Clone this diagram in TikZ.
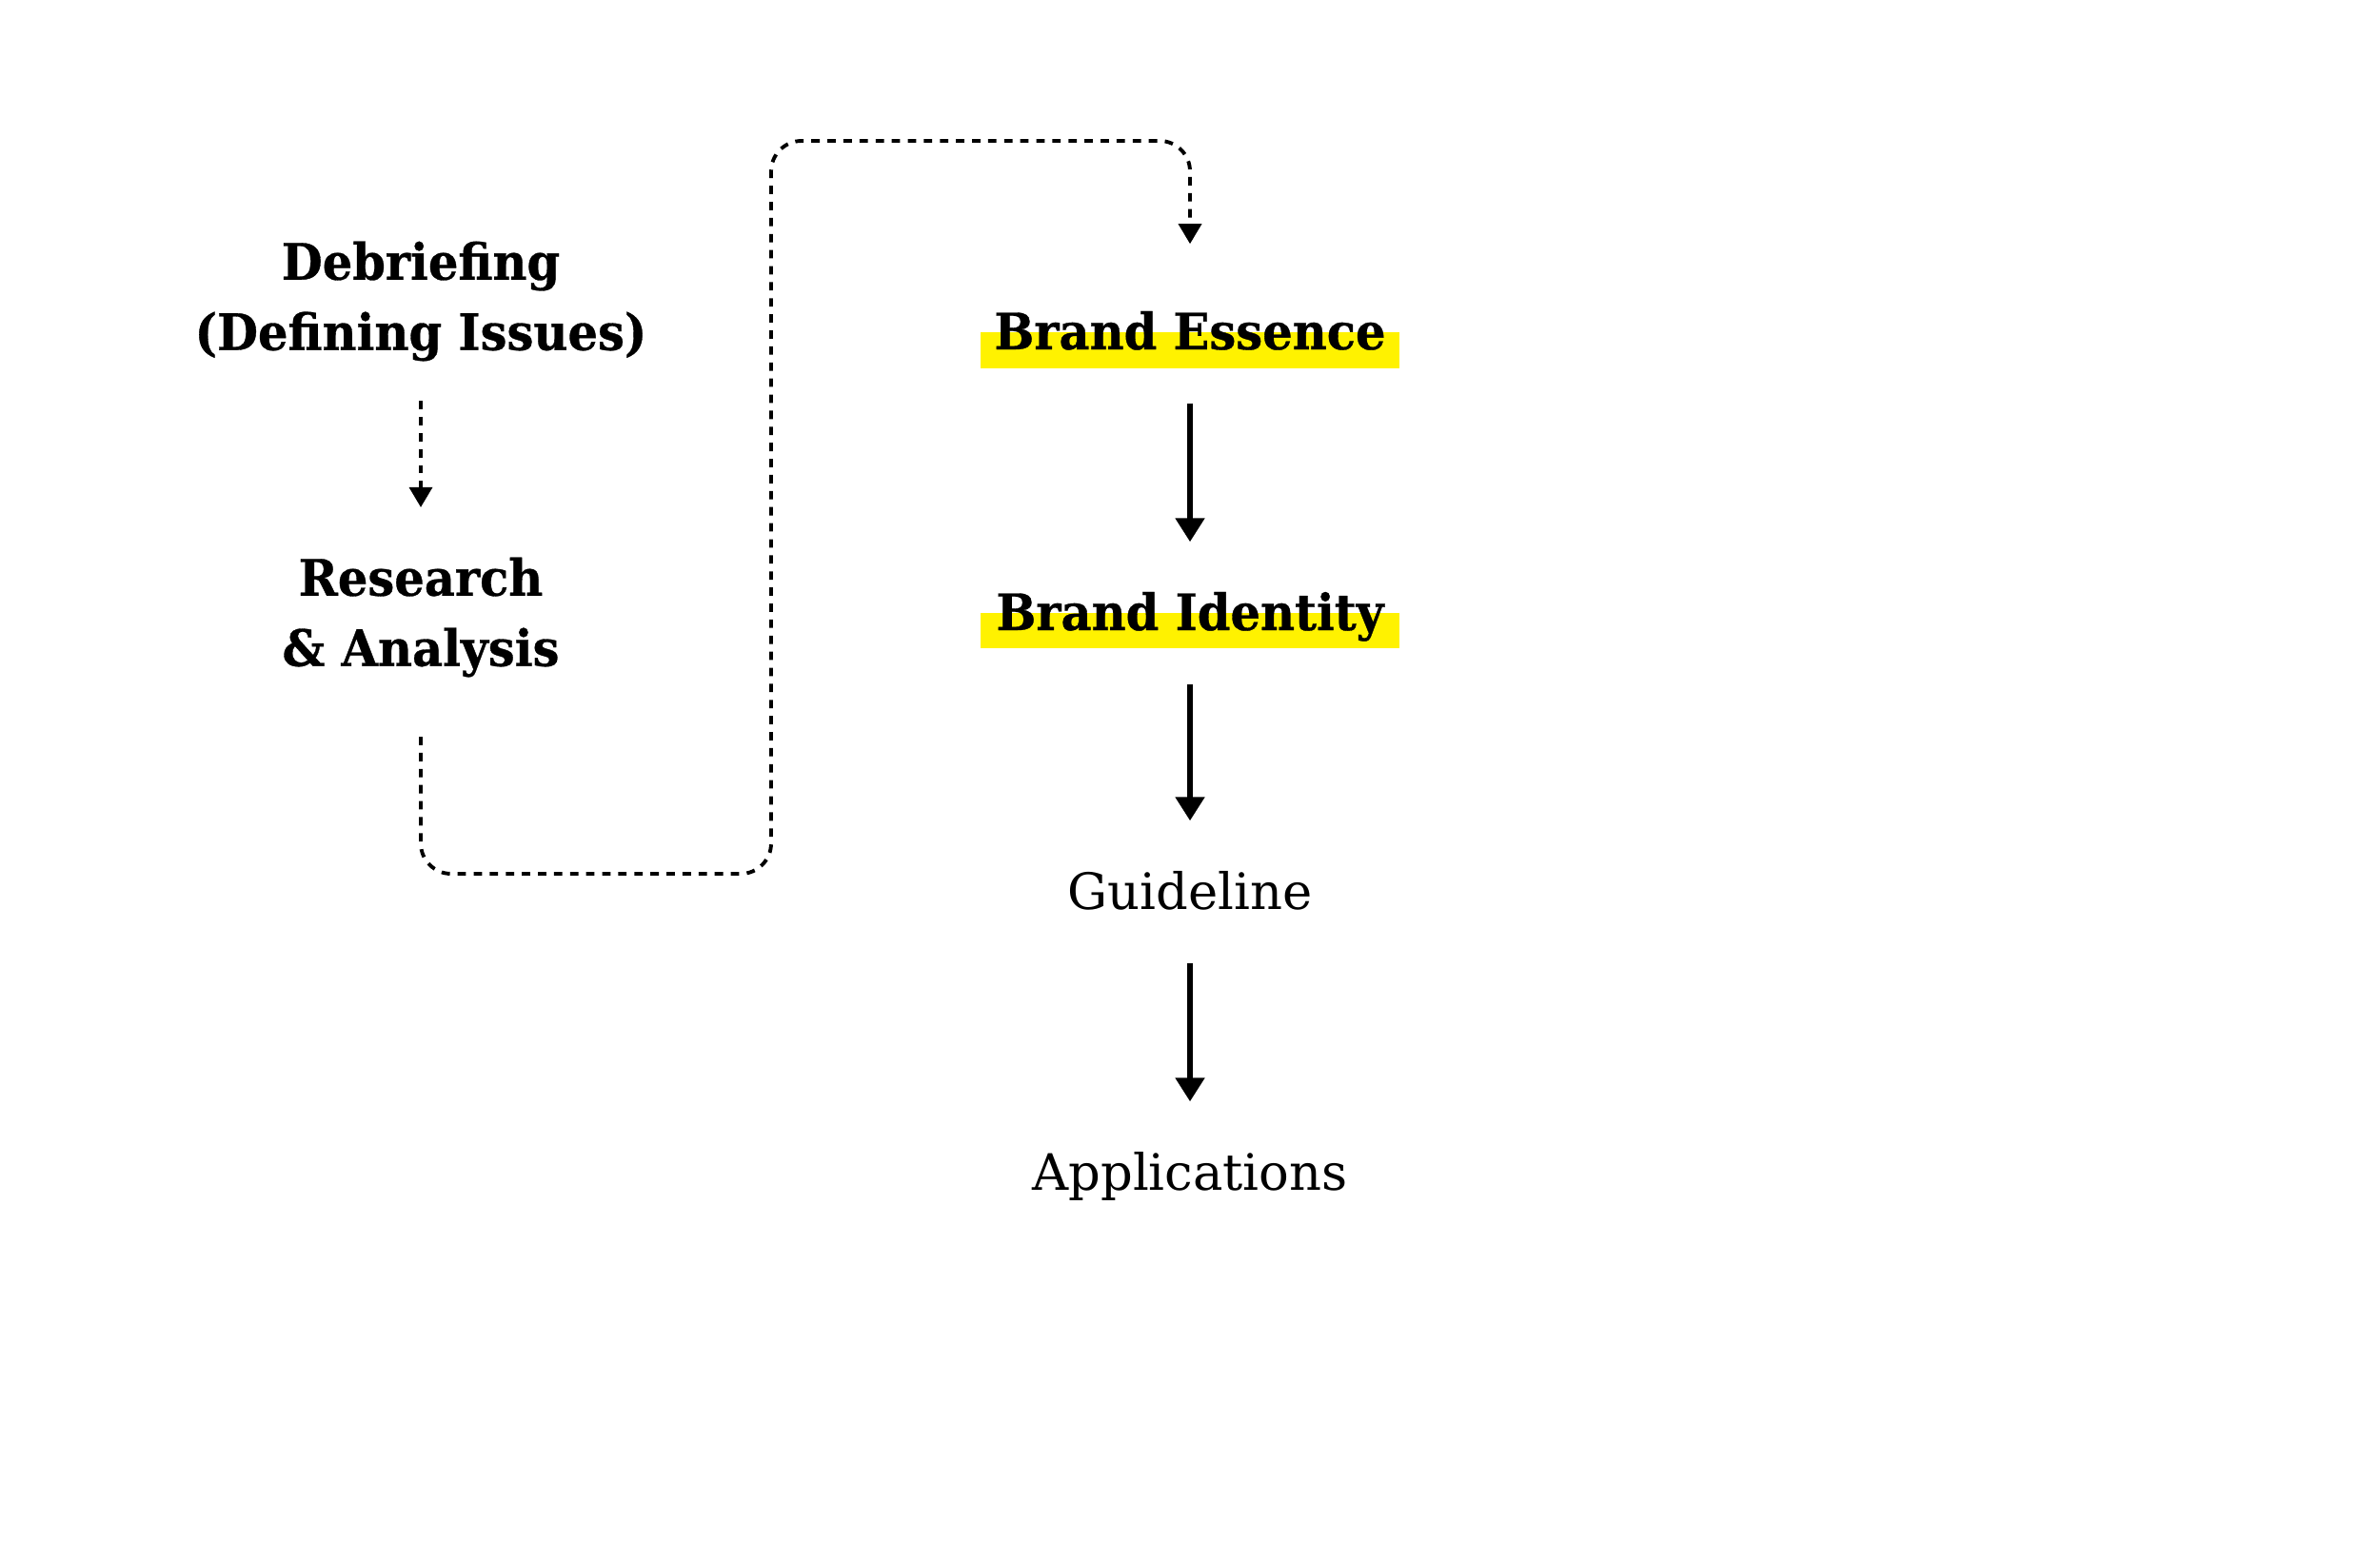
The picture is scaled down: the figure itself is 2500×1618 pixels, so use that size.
\documentclass[tikz,border=0pt]{standalone}
\usepackage{fontspec}
\setmainfont{DejaVu Serif}
\newfontfamily\slab[FakeStretch=0.94,BoldFeatures={FakeBold=0.6}]{DejaVu Serif}
\usetikzlibrary{arrows.meta}
\definecolor{marker}{RGB}{255,242,0}

\begin{document}
\begin{tikzpicture}[x=0.01cm,y=-0.01cm,
   step title/.style={font=\slab\bfseries\fontsize{15}{21}\selectfont,align=center,inner sep=0pt},
   step plain/.style={font=\fontsize{15}{21}\selectfont,inner sep=0pt,text height=0.4cm,text depth=0.12cm},
   flow/.style={line width=1.1pt,dash pattern=on 2.5pt off 2.3pt,-{Triangle[length=6pt,width=6.8pt]}},
   main/.style={line width=1.6pt,-{Triangle[length=7.1pt,width=8.5pt]},shorten <=0.44cm,shorten >=0.52cm}]
   \useasboundingbox (0,0) rectangle (2500,1618);

   % 左の列
   \node[step title,anchor=north] (debrief) at (442,253) {Debriefing\\(Defining Issues)};
   \node[step title,anchor=north] (research) at (442,585) {Research\\\& Analysis};

   % 右の列（マーカー）
   \fill[marker] (1030,349) rectangle (1470,387);
   \fill[marker] (1030,644) rectangle (1470,681);
   \node[step plain,font=\slab\bfseries\fontsize{15}{21}\selectfont,anchor=base] (essence) at (1250,367) {Brand Essence};
   \node[step plain,font=\slab\bfseries\fontsize{15}{21}\selectfont,anchor=base] (identity) at (1250,662) {Brand Identity};
   \node[step plain,anchor=base] (guide) at (1250,955) {Guideline};
   \node[step plain,anchor=base] (apps) at (1250,1250) {Applications};

   % 点線の矢印
   \draw[flow,shorten <=0.41cm,shorten >=0.52cm] (debrief.south) -- (research.north);
   \draw[flow,rounded corners=0.32cm,shorten <=0.62cm,shorten >=0.7cm]
      (research.south) |- (810,918) -- (810,148) -| (essence.north);

   % 実線の矢印
   \draw[main] (essence.south) -- (identity.north);
   \draw[main] (identity.south) -- (guide.north);
   \draw[main] (guide.south) -- (apps.north);

\end{tikzpicture}
\end{document}
